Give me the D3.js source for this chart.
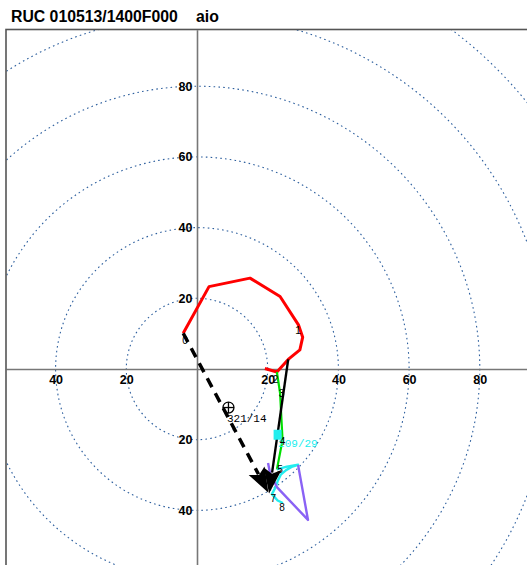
<!DOCTYPE html>
<html><head><meta charset="utf-8">
<script src="https://cdn.jsdelivr.net/npm/d3@7"></script>
<style>
html,body{margin:0;padding:0;background:#fff;}
svg{display:block;}
</style></head>
<body>
<svg id="c" width="527" height="565"></svg>
<script>
// ---- data (knots, u/v components) ----
const titleText = "RUC 010513/1400F000";
const stationText = "aio";
const rings = [20, 40, 60, 80, 100, 120];
const xTicks = [-40, -20, 20, 40, 60, 80];
const yTicks = [20, 40, 60, 80, -20, -40];

const redLayer = [[-3.9,10.1],[3.4,23.3],[15.0,25.7],[23.5,20.5],[28.7,12.5],[29.9,9.0],[29.1,5.4],[25.8,2.7],[22.6,-0.85],[19.2,0.14]];
const greenLayer = [[22.6,-0.85],[23.5,-6.8],[24.2,-20.1],[22.6,-28.4]];
const cyanLayer = [[22.6,-28.4],[25.4,-27.6],[28.6,-27.1],[27.0,-27.6],[25.2,-28.6],[23.7,-29.9],[22.9,-31.5],[22.2,-33.5],[21.2,-35.4],[22.8,-37.2],[24.3,-37.9]];
const purpleLayer = [[28.6,-27.2],[31.4,-42.7],[22.6,-33.4],[20.65,-29.4],[20.1,-26.6]];

const kmLabels = ["0","1","2","3","4","5","7","8"];
const kmU = [-3.4, 28.6, 22.2, 23.9, 24.2, 23.5, 21.6, 24.05];
const kmV = [8.2, 11.0, -3.1, -6.8, -20.4, -28.3, -36.5, -39.3];

const solidArrow = [[25.8,2.7],[20.4,-35.2]];
const dashedArrow = [[-3.9,10.1],[20.2,-35.0]];

const motionLeft = {u: 8.9, v: -10.9, label: "321/14"};
const motionRight = {u: 22.8, v: -18.6, label: "209/29"};

// ---- layout ----
const svg = d3.select("#c");
const x = d3.scaleLinear().domain([-54, 94]).range([197 - 54*3.535, 197 + 94*3.535]);
const y = d3.scaleLinear().domain([-56, 96]).range([369 + 56*3.535, 369 - 96*3.535]);
const k = x(1) - x(0);

svg.append("text").attr("x", 11).attr("y", 21.5)
  .attr("font-family", "Liberation Sans, Arial, sans-serif").attr("font-weight", "bold")
  .attr("font-size", 15.8).attr("fill", "#000").text(titleText);
svg.append("text").attr("x", 196).attr("y", 21.5)
  .attr("font-family", "Liberation Sans, Arial, sans-serif").attr("font-weight", "bold")
  .attr("font-size", 15.8).attr("fill", "#000").text(stationText);

svg.append("clipPath").attr("id", "clip").append("rect")
  .attr("x", 6).attr("y", 29.5).attr("width", 600).attr("height", 600);

const plot = svg.append("g").attr("clip-path", "url(#clip)");

plot.selectAll("circle.ring").data(rings).join("circle")
  .attr("class", "ring")
  .attr("cx", x(0)).attr("cy", y(0)).attr("r", d => d * k)
  .attr("fill", "none").attr("stroke", "#2d5f9e").attr("stroke-width", 1.1)
  .attr("stroke-dasharray", "1.6,3.2");

// axes
const xAxis = d3.axisBottom(x).tickValues(xTicks).tickFormat(d => Math.abs(d))
  .tickSize(0).tickSizeOuter(0).tickPadding(6);
const gx = plot.append("g").attr("transform", `translate(0,${y(0)})`).call(xAxis);
const yAxis = d3.axisLeft(y).tickValues(yTicks).tickFormat(d => Math.abs(d))
  .tickSize(0).tickSizeOuter(0).tickPadding(4.5);
const gy = plot.append("g").attr("transform", `translate(${x(0)},0)`).call(yAxis);
[gx, gy].forEach(g => {
  g.select(".domain").attr("stroke", "#777").attr("stroke-width", 1.6);
  g.selectAll("text").attr("font-family", "Liberation Sans, Arial, sans-serif")
    .attr("font-weight", "bold").attr("font-size", 12.5).attr("fill", "#000");
});

// frame
svg.append("rect").attr("x", 6).attr("y", 29.5).attr("width", 600).attr("height", 600)
  .attr("fill", "none").attr("stroke", "#555").attr("stroke-width", 1.6);

// hodograph layers
const line = d3.line().x(d => x(d[0])).y(d => y(d[1]));
const layers = [
  {data: redLayer, color: "#ff0000", w: 3},
  {data: greenLayer, color: "#00e000", w: 2.2},
  {data: cyanLayer, color: "#22eeee", w: 2.4},
  {data: purpleLayer, color: "#8a62f5", w: 2.4}
];
plot.selectAll("path.layer").data(layers).join("path")
  .attr("class", "layer")
  .attr("d", d => line(d.data)).attr("fill", "none")
  .attr("stroke", d => d.color).attr("stroke-width", d => d.w)
  .attr("stroke-linejoin", "round");

// arrows
function arrow(a, dashed) {
  const x0 = x(a[0][0]), y0 = y(a[0][1]), x1 = x(a[1][0]), y1 = y(a[1][1]);
  const dx = x1 - x0, dy = y1 - y0, L = Math.hypot(dx, dy);
  const ux = dx / L, uy = dy / L, px = -uy, py = ux;
  const hl = 25, hw = 9;
  const bx = x1 - ux * hl, by = y1 - uy * hl;
  plot.append("line").attr("x1", x0).attr("y1", y0).attr("x2", bx + ux * 4).attr("y2", by + uy * 4)
    .attr("stroke", "#000").attr("stroke-width", dashed ? 3.5 : 2.4)
    .attr("stroke-dasharray", dashed ? "10,7" : null);
  plot.append("path")
    .attr("d", `M${x1},${y1}L${bx + px * hw},${by + py * hw}L${bx + ux * 5},${by + uy * 5}L${bx - px * hw},${by - py * hw}Z`)
    .attr("fill", "#000");
}
arrow(dashedArrow, true);
arrow(solidArrow, false);

// storm motion markers
const cm = plot.append("g").attr("transform", `translate(${x(motionLeft.u)},${y(motionLeft.v)})`);
cm.append("circle").attr("r", 5.5).attr("fill", "none").attr("stroke", "#000").attr("stroke-width", 1.3);
cm.append("line").attr("x1", -5.5).attr("x2", 5.5).attr("stroke", "#000").attr("stroke-width", 1.3);
cm.append("line").attr("y1", -5.5).attr("y2", 5.5).attr("stroke", "#000").attr("stroke-width", 1.3);
plot.append("text").attr("x", x(motionLeft.u) - 1.5).attr("y", y(motionLeft.v) + 14)
  .attr("font-family", "Liberation Mono, monospace").attr("font-size", 11).attr("fill", "#000")
  .text(motionLeft.label);

plot.append("rect").attr("x", x(motionRight.u) - 4).attr("y", y(motionRight.v) - 5)
  .attr("width", 8).attr("height", 10).attr("fill", "#22eeee");
plot.append("text").attr("x", x(motionRight.u) + 0.5).attr("y", y(motionRight.v) + 12.5)
  .attr("font-family", "Liberation Mono, monospace").attr("font-size", 11).attr("fill", "#22eeee")
  .text(motionRight.label);

// km labels
plot.selectAll("text.km").data(kmLabels).join("text")
  .attr("class", "km")
  .attr("x", (d, i) => x(kmU[i])).attr("y", (d, i) => y(kmV[i]))
  .attr("text-anchor", "middle").attr("dominant-baseline", "central")
  .attr("font-family", "Liberation Sans, Arial, sans-serif").attr("font-size", 10)
  .attr("fill", "#000").text(d => d);
</script>
</body></html>
